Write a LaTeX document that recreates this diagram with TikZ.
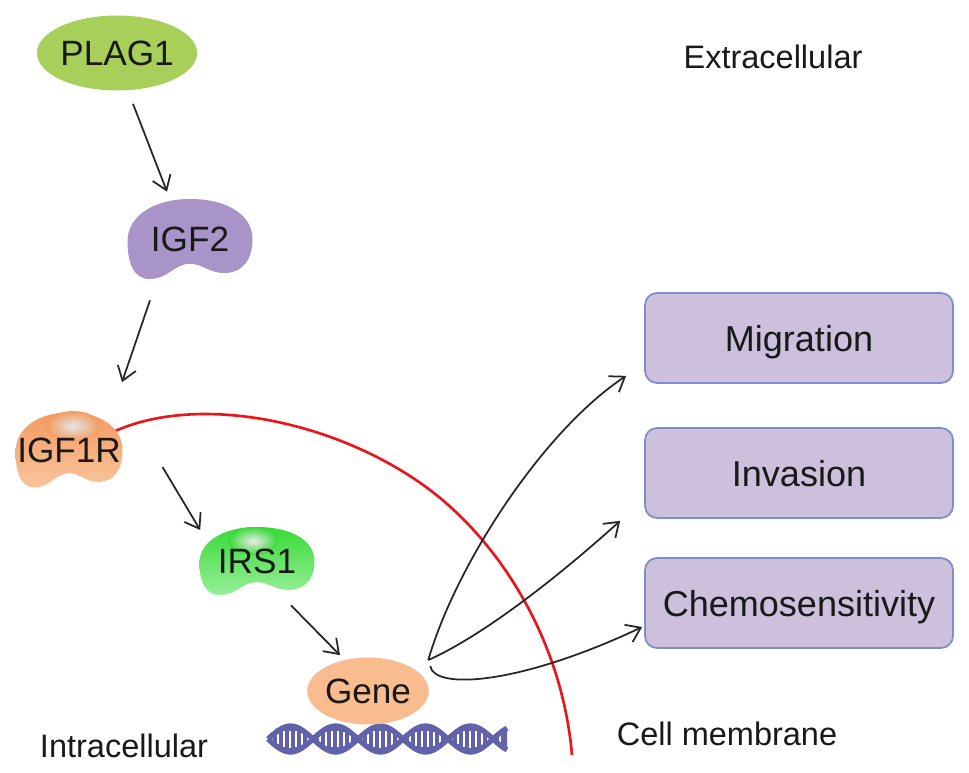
\documentclass[tikz,border=0pt]{standalone}
\usepackage{fontspec}
\setmainfont{Liberation Sans}
\usetikzlibrary{calc,arrows.meta,shapes.geometric}
\pgfdeclarelayer{background}
\pgfsetlayers{background,main}

\definecolor{plaggreen}{RGB}{168,207,90}
\definecolor{igfpurple}{RGB}{168,148,200}
\definecolor{receptor}{RGB}{243,155,96}
\definecolor{receptorlow}{RGB}{249,196,156}
\definecolor{irsgreen}{RGB}{56,218,56}
\definecolor{irslow}{RGB}{152,238,152}
\definecolor{genecol}{RGB}{248,188,142}
\definecolor{boxfill}{RGB}{204,192,220}
\definecolor{boxline}{RGB}{125,142,205}
\definecolor{dnacol}{RGB}{98,98,172}
\definecolor{membrane}{RGB}{236,20,24}

% bean outline, unit size
\def\beanpath{(0,1) .. controls (0.6,1) and (1,0.6) .. (1,0)
  .. controls (1,-0.5) and (0.85,-0.85) .. (0.55,-0.85)
  .. controls (0.3,-0.85) and (0.2,-0.62) .. (0,-0.62)
  .. controls (-0.25,-0.62) and (-0.35,-1) .. (-0.65,-1)
  .. controls (-0.9,-1) and (-1,-0.6) .. (-1,-0.05)
  .. controls (-1,0.55) and (-0.6,1) .. (0,1) -- cycle}

\newcommand\bean[4]{%
  \scope[shift={(#1.center)}, x=#2cm, y=#3cm]
    \path[#4] \beanpath;
  \endscope}

\def\strandup{739-13*sin(4*(\x-268))}
\def\stranddown{739+13*sin(4*(\x-268))}

\begin{document}
\begin{tikzpicture}[x=0.02cm, y=-0.02cm,
  protein/.style={ellipse, inner sep=0pt, text=black!90,
    font=\fontsize{20}{24}\selectfont},
  effect/.style={draw=boxline, fill=boxfill, line width=1pt,
    rounded corners=0.24cm, minimum width=6.16cm, minimum height=1.8cm,
    text height=14.8pt, text depth=0pt, text=black!90,
    font=\fontsize{20.5}{24}\selectfont},
  region/.style={inner sep=0pt, text=black!90,
    font=\fontsize{18.5}{22}\selectfont},
  arr/.style={-{Straight Barb[length=2.7mm,width=3.8mm]},
    line width=1pt, black!85}]

\useasboundingbox (0,0) rectangle (969,773);

% signalling chain
\node[protein, fill=plaggreen, minimum width=3cm, minimum height=1.5cm] (plag1) at (117,53) {PLAG1};
\node[protein, minimum width=2.5cm, minimum height=1.6cm] (igf2) at (190,239) {IGF2};
\node[protein, minimum width=2.14cm, minimum height=1.5cm] (igf1r) at (69,450) {IGF1R};
\node[protein, minimum width=2.3cm, minimum height=1.36cm] (irs1) at (257,561) {IRS1};
\node[protein, fill=genecol, minimum width=2.2cm, minimum height=1.34cm] (gene) at (368,691) {Gene};

% outcomes
\node[effect] (mig) at (799,338) {Migration};
\node[effect] (inv) at (799,473) {Invasion};
\node[effect] (chemo) at (799,603) {Chemosensitivity};

% regions
\node[region] (extra) at (773,57) {Extracellular};
\node[region] (intra) at (124,746) {Intracellular};
\node[region] (memb) at (727,734) {Cell membrane};

\begin{pgfonlayer}{background}
  % membrane
  \draw[membrane, line width=1.5pt] (113,432) .. controls (200,392) and (340,422) .. (430,490)
    .. controls (500,543) and (562,640) .. (572,755);
  % dna under the gene
  \fill[dnacol] plot[domain=268:507, samples=120] (\x,{\strandup})
    -- plot[domain=507:268, samples=120] (\x,{\stranddown}) -- cycle;
  \foreach \x in {272,278,...,502}
    \draw[white, line width=1.3pt] (\x,{739-8.5*sin(4*(\x-268))}) -- (\x,{739+8.5*sin(4*(\x-268))});
  \draw[dnacol, line width=3pt] plot[domain=268:507, samples=120] (\x,{\strandup});
  \draw[dnacol, line width=3pt] plot[domain=268:507, samples=120] (\x,{\stranddown});
  % beans
  \bean{igf2}{1.25}{0.8}{fill=igfpurple}
  \bean{igf1r}{1.07}{0.75}{top color=receptor, bottom color=receptorlow}
  \shade[inner color=white!80!gray, outer color=receptor] ($(igf1r.center)+(4,-24)$) ellipse (0.55cm and 0.3cm);
  \bean{irs1}{1.15}{0.68}{top color=irsgreen, bottom color=irslow}
  \shade[inner color=white!85!gray, outer color=irsgreen] ($(irs1.center)+(-4,-20)$) ellipse (0.5cm and 0.28cm);
\end{pgfonlayer}

% arrows
\draw[arr] ($(plag1.south)+(16,13)$) -- ($(igf2.north)+(-23,-7)$);
\draw[arr] ($(igf2.south)+(-40,21)$) -- ($(igf1r.north)+(53,-30)$);
\draw[arr] ($(igf1r.east)+(20,17)$) -- ($(irs1.west)+(1,-31)$);
\draw[arr] ($(irs1.south)+(34,10)$) -- ($(gene.north)+(-28,-2)$);

\coordinate (gout) at ($(gene.north east)+(17,-7)$);
\coordinate (gout2) at ($(gout)+(2,6)$);
\draw[arr] (gout) .. controls +(28,-96) and +(-83,55) .. ($(mig.south west)+(-18,-8)$);
\draw[arr] (gout) .. controls +(56,-25) and +(-61,55) .. ($(inv.south west)+(-24,2)$);
\draw[arr] (gout2) .. controls +(4,24) and +(-123,58) .. ($(chemo.west)+(-2,24)$);

\end{tikzpicture}
\end{document}
